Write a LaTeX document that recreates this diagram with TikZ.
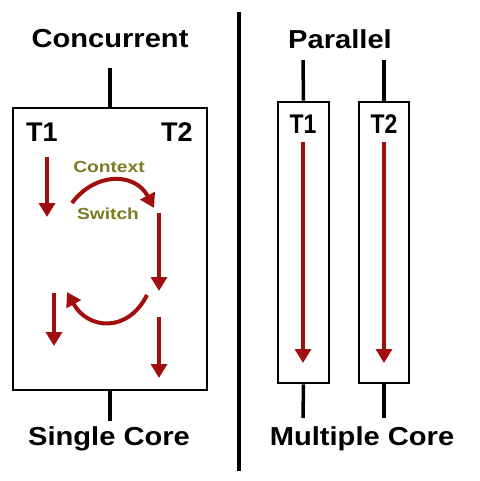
\documentclass[tikz,border=0pt]{standalone}
\usepackage{fontspec}
\setmainfont{Liberation Sans}
\usetikzlibrary{arrows.meta}
\definecolor{arrred}{HTML}{A00E0E}
\definecolor{olivetxt}{HTML}{7E7A22}
\tikzset{
  frame/.style={draw=black, line width=2.8pt, fill=white, inner sep=0pt},
  wire/.style={draw=black, line width=3.5pt},
  redarr/.style={draw=arrred, line width=4pt, -{Triangle[width=16pt,length=14pt]}},
  title/.style={font=\bfseries\fontsize{26}{30}\selectfont, inner sep=0pt},
  tlabel/.style={font=\bfseries\fontsize{27}{30}\selectfont, inner sep=0pt},
  cslabel/.style={font=\bfseries\fontsize{16}{19}\selectfont, text=olivetxt, inner sep=0pt}
}
\newcommand{\wide}[1]{\scalebox{1.12}[1]{#1}}
\begin{document}
\begin{tikzpicture}[x=1pt,y=-1pt]
\useasboundingbox (0,0) rectangle (479,481);
% divider
\coordinate (dtop) at (239,12);
\coordinate (dbot) at (239,471);
\draw[wire, line width=4pt] (dtop) -- (dbot);
% titles
\node[title] (conc) at (110,39) {\wide{Concurrent}};
\node[title] (par) at (340,39) {\wide{Parallel}};
\node[title] (single) at (109,439) {\wide{Single Core}};
\node[title] (multi) at (362,439) {\wide{Multiple Core}};
% left box
\node[frame, minimum width=194pt, minimum height=282pt] (sbox) at (110,249) {};
\coordinate (stop) at (110,68);
\coordinate (sbot) at (110,421);
\draw[wire] (stop) -- (sbox.north);
\draw[wire] (sbox.south) -- (sbot);
\node[tlabel] (lt1) at (42,132) {T1};
\node[tlabel] (lt2) at (177,132) {T2};
% right boxes
\node[frame, minimum width=51pt, minimum height=281pt] (pbox1) at (303.5,242.5) {};
\node[frame, minimum width=50pt, minimum height=281pt] (pbox2) at (384,242.5) {};
\coordinate (p1top) at (303,60);
\coordinate (p1bot) at (303,418);
\coordinate (p2top) at (384,60);
\coordinate (p2bot) at (384,418);
\draw[wire] (p1top) -- (pbox1.north);
\draw[wire] (pbox1.south) -- (p1bot);
\draw[wire] (p2top) -- (pbox2.north);
\draw[wire] (pbox2.south) -- (p2bot);
\node[tlabel] (rt1) at (303,124) {\scalebox{0.85}[1]{T1}};
\node[tlabel] (rt2) at (384,124) {\scalebox{0.85}[1]{T2}};
% left arrows
\coordinate (a1s) at (47,157); \coordinate (a1e) at (47,217);
\coordinate (a2s) at (159,213); \coordinate (a2e) at (159,291);
\coordinate (a3s) at (54,293); \coordinate (a3e) at (54,346);
\coordinate (a4s) at (159,317); \coordinate (a4e) at (159,378);
\draw[redarr] (a1s) -- (a1e);
\draw[redarr] (a2s) -- (a2e);
\draw[redarr] (a3s) -- (a3e);
\draw[redarr] (a4s) -- (a4e);
% context switch arcs
\coordinate (c1s) at (72,203); \coordinate (c1e) at (154,208);
\coordinate (c2s) at (147,295); \coordinate (c2e) at (67,292);
\draw[redarr] (c1s) .. controls (95,172) and (135,172) .. (c1e);
\draw[redarr] (c2s) .. controls (128,333) and (88,330) .. (c2e);
\node[cslabel] (ctx) at (109,167) {\scalebox{1.2}[1]{Context}};
\node[cslabel] (sw) at (108,214) {\scalebox{1.2}[1]{Switch}};
% right arrows
\coordinate (r1s) at (303,142); \coordinate (r1e) at (303,363);
\coordinate (r2s) at (384,142); \coordinate (r2e) at (384,363);
\draw[redarr] (r1s) -- (r1e);
\draw[redarr] (r2s) -- (r2e);
\end{tikzpicture}
\end{document}
